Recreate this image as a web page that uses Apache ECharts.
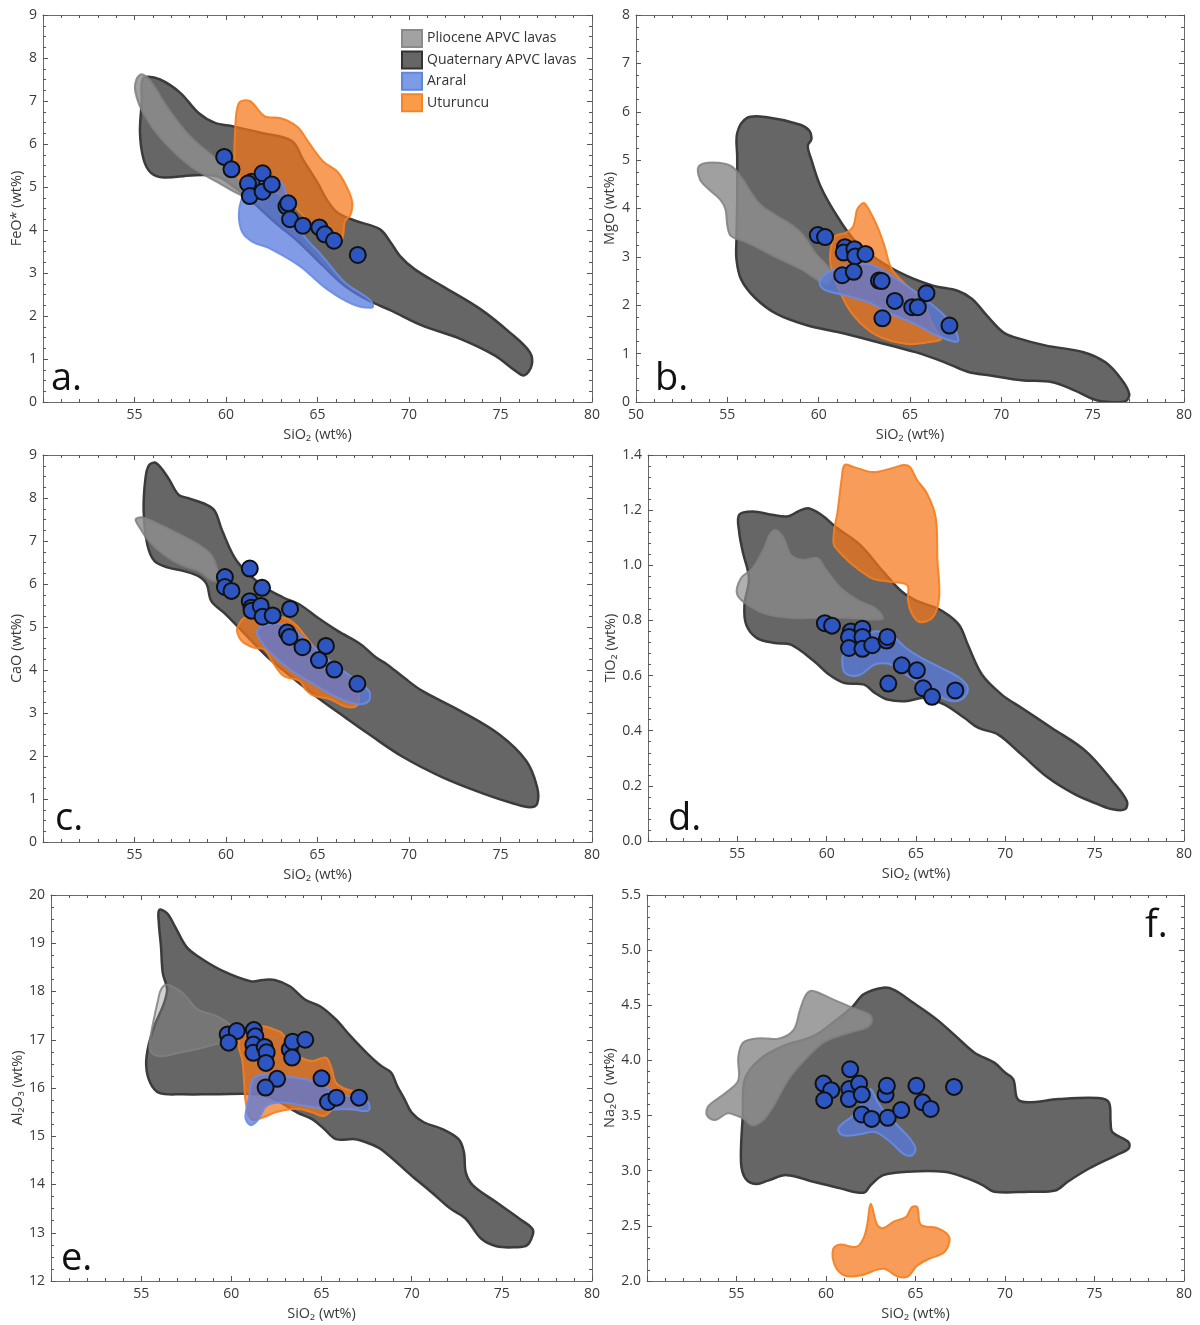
<!DOCTYPE html>
<html><head><meta charset="utf-8">
<script src="https://cdn.jsdelivr.net/npm/echarts/dist/echarts.min.js"></script>
<style>html,body{margin:0;padding:0;background:#fff}#c{width:1200px;height:1325px}</style>
</head><body><div id="c"></div>
<script>
// ---------- Panel a: FeO* ----------
const aQuat = [[55.6,7.56],[56.4,7.5],[57.5,7.19],[58.5,6.72],[59.4,6.49],[60.4,6.41],[61.9,6.26],[63.6,6.07],[64.2,5.64],[65.0,5.1],[65.5,4.71],[66.1,4.4],[67.1,4.21],[68.4,4.02],[69.0,3.71],[69.5,3.4],[70.3,3.09],[71.8,2.7],[73.9,2.16],[75.5,1.62],[76.6,1.16],[76.7,0.85],[76.3,0.62],[75.8,0.73],[74.7,1.08],[72.8,1.47],[70.7,1.78],[69.0,2.13],[67.8,2.36],[66.5,2.7],[65.3,3.17],[64.0,3.71],[62.7,4.17],[61.3,4.71],[60.0,5.14],[59.4,5.26],[58.1,5.27],[56.6,5.22],[55.9,5.33],[55.5,5.64],[55.3,6.26],[55.4,7.03],[55.4,7.42]];
const aPlio = [[55.4,7.62],[55.9,7.45],[56.8,6.85],[58.0,6.2],[59.5,5.65],[60.8,5.25],[62.0,4.95],[62.2,4.7],[61.0,4.78],[59.5,5.12],[58.0,5.5],[56.5,6.1],[55.5,6.7],[55.05,7.2],[55.1,7.5]];
const aUtur = [[60.7,6.95],[61.3,7.0],[62.1,6.65],[63.0,6.6],[63.9,6.4],[64.5,6.05],[65.3,5.6],[66.1,5.35],[66.6,5.0],[66.9,4.65],[66.8,4.35],[66.5,4.2],[66.35,3.8],[66.0,3.75],[65.2,3.9],[64.5,4.2],[63.6,4.6],[62.8,4.85],[61.8,4.95],[60.9,5.1],[60.5,5.5],[60.5,6.3]];
const aArar = [[60.85,4.71],[61.3,5.02],[62.1,5.14],[62.7,5.18],[63.15,5.02],[63.6,4.25],[64.4,3.79],[65.25,3.4],[66.5,2.78],[67.9,2.36],[68.0,2.2],[66.9,2.28],[65.5,2.63],[64.0,3.17],[62.3,3.59],[61.5,3.71],[60.9,3.94],[60.7,4.33]];
const aPts = [[59.9,5.7],[60.3,5.41],[61.4,5.12],[61.2,5.08],[61.3,4.79],[62.0,5.32],[62.0,4.89],[62.5,5.06],[63.3,4.55],[63.4,4.62],[63.5,4.25],[64.2,4.1],[65.1,4.06],[65.4,3.9],[65.9,3.75],[67.2,3.42]];

// ---------- Panel b: MgO ----------
const bQuat = [[55.54,5.56],[56.06,5.87],[57.1,5.89],[59.0,5.73],[59.5,5.6],[59.6,5.43],[59.4,5.29],[59.6,5.01],[60.1,4.46],[60.9,3.91],[61.9,3.37],[63.2,2.95],[64.8,2.61],[66.3,2.4],[67.6,2.3],[68.4,2.13],[69.2,1.79],[70.1,1.44],[70.7,1.34],[72.4,1.17],[74.5,1.03],[75.7,0.82],[76.55,0.48],[77.0,0.17],[76.8,0.02],[75.9,0.0],[75.1,0.05],[74.0,0.24],[72.8,0.41],[71.1,0.45],[69.4,0.55],[68.2,0.62],[66.9,0.82],[65.3,1.03],[63.2,1.24],[61.1,1.44],[59.4,1.58],[57.7,1.82],[56.5,2.16],[55.75,2.54],[55.5,2.95],[55.5,3.37],[55.54,4.19],[55.54,5.08]];
const bPlio = [[53.45,4.88],[54.2,4.95],[55.2,4.88],[55.85,4.6],[56.3,4.33],[56.9,4.05],[57.7,3.85],[58.6,3.64],[59.2,3.43],[59.8,3.09],[60.7,2.68],[60.45,2.44],[59.0,2.75],[57.5,3.02],[56.06,3.3],[55.2,3.43],[55.0,3.64],[54.9,3.98],[54.6,4.19],[53.97,4.4],[53.5,4.6]];
const bUtur = [[62.33,4.09],[62.1,3.98],[61.9,3.64],[61.5,3.5],[60.9,3.43],[60.66,3.16],[60.66,2.82],[61.08,2.34],[61.9,1.79],[63.2,1.37],[64.85,1.2],[66.1,1.24],[66.7,1.3],[66.5,1.44],[66.1,1.72],[65.7,2.13],[64.85,2.4],[64.0,2.75],[63.6,3.23],[63.2,3.64],[62.75,3.98],[62.5,4.11]];
const bArar = [[60.1,2.54],[60.66,2.71],[61.7,2.82],[62.75,2.85],[64.0,2.61],[65.3,2.27],[66.5,1.92],[67.35,1.58],[67.65,1.3],[67.55,1.24],[66.5,1.37],[65.3,1.61],[63.8,1.85],[62.75,2.06],[61.5,2.2],[60.45,2.3],[60.1,2.4]];
const bPts = [[59.95,3.45],[60.35,3.41],[61.44,3.2],[61.37,3.09],[61.96,3.16],[62.0,3.01],[62.56,3.06],[61.29,2.62],[61.92,2.69],[63.3,2.51],[63.45,2.5],[64.17,2.09],[65.12,1.96],[65.43,1.96],[65.9,2.25],[63.49,1.73],[67.16,1.58]];

// ---------- Panel c: CaO ----------
const cQuat = [[55.8,8.77],[56.2,8.81],[56.85,8.46],[57.4,8.08],[57.9,8.0],[58.95,7.84],[59.4,7.69],[59.8,7.23],[60.6,6.53],[61.9,5.99],[63.15,5.68],[64.0,5.53],[65.0,5.22],[66.1,4.91],[67.35,4.6],[68.2,4.29],[68.8,4.13],[69.7,3.83],[70.7,3.52],[72.8,3.05],[74.9,2.51],[76.4,1.89],[77.0,1.28],[77.0,0.89],[76.6,0.81],[75.75,0.89],[74.1,1.12],[71.8,1.51],[69.7,1.97],[67.8,2.51],[66.5,2.9],[65.0,3.36],[63.6,3.83],[62.3,4.29],[61.05,4.83],[60.0,5.29],[59.2,5.6],[58.95,5.99],[58.5,6.18],[57.7,6.3],[56.85,6.38],[56.1,6.53],[55.7,6.92],[55.5,7.69],[55.6,8.46]];
const cPlio = [[55.06,7.5],[55.4,7.55],[56.4,7.38],[57.5,7.15],[58.5,6.92],[59.2,6.68],[59.5,6.38],[59.6,6.14],[59.3,6.07],[58.5,6.3],[57.5,6.45],[56.6,6.68],[55.8,6.99],[55.3,7.3]];
const cUtur = [[61.05,5.22],[62.3,5.22],[63.15,5.22],[63.8,5.06],[64.4,4.75],[65.0,4.44],[65.9,4.13],[66.7,3.83],[67.25,3.44],[67.15,3.17],[66.5,3.15],[65.7,3.32],[64.8,3.4],[64.4,3.52],[64.0,3.75],[63.15,3.86],[62.5,4.21],[62.1,4.48],[61.5,4.52],[60.85,4.68],[60.6,4.91],[60.7,5.06]];
const cArar = [[62.3,5.06],[63.4,5.02],[64.4,4.68],[65.7,4.21],[66.9,3.83],[67.8,3.52],[67.8,3.28],[67.15,3.21],[66.1,3.36],[64.8,3.67],[63.6,3.98],[62.5,4.37],[61.9,4.68],[61.7,4.91]];
const cPts = [[59.94,6.16],[59.94,5.93],[60.3,5.84],[61.3,6.36],[61.97,5.91],[61.3,5.6],[61.39,5.45],[61.4,5.38],[61.9,5.49],[62.0,5.24],[62.55,5.27],[63.5,5.42],[63.34,4.87],[63.47,4.77],[64.18,4.53],[65.46,4.56],[65.08,4.23],[65.92,4.01],[67.18,3.68]];

// ---------- Panel d: TiO2 ----------
const dQuat = [[55.1,1.183],[55.86,1.195],[56.93,1.183],[57.8,1.177],[58.4,1.195],[58.97,1.207],[59.7,1.183],[60.6,1.134],[61.87,1.074],[63.15,0.978],[64.2,0.905],[65.1,0.869],[66.16,0.845],[66.8,0.82],[67.45,0.78],[67.9,0.712],[68.7,0.603],[69.8,0.531],[70.9,0.483],[72.6,0.41],[74.5,0.326],[76.0,0.217],[76.8,0.145],[76.7,0.115],[76.0,0.115],[75.2,0.133],[73.9,0.169],[72.4,0.229],[70.9,0.314],[69.6,0.386],[68.5,0.41],[67.7,0.447],[66.6,0.495],[65.5,0.519],[64.4,0.507],[63.4,0.513],[62.7,0.537],[62.1,0.567],[61.0,0.573],[60.15,0.603],[59.3,0.652],[58.0,0.712],[57.1,0.718],[56.1,0.736],[55.5,0.784],[55.4,0.857],[55.65,0.953],[55.3,1.05],[55.1,1.122]];
const dPlio = [[57.15,1.128],[57.6,1.098],[58.0,1.038],[58.65,1.02],[59.5,1.026],[59.9,0.99],[60.8,0.917],[61.87,0.869],[62.7,0.845],[63.15,0.809],[62.7,0.803],[61.4,0.809],[60.15,0.809],[59.3,0.809],[58.0,0.809],[56.7,0.821],[55.86,0.845],[55.0,0.893],[55.2,0.953],[55.86,0.99],[56.5,1.062],[56.8,1.11]];
const dUtur = [[61.0,1.364],[61.5,1.357],[62.6,1.338],[63.7,1.353],[64.3,1.364],[64.66,1.357],[65.05,1.31],[65.6,1.262],[66.1,1.175],[66.2,1.02],[66.3,0.885],[65.95,0.812],[65.2,0.794],[64.75,0.827],[64.55,0.874],[64.5,0.928],[63.55,0.94],[62.4,0.957],[60.47,1.066],[60.4,1.117],[60.6,1.19],[60.85,1.32]];
const dArar = [[61.0,0.688],[61.87,0.736],[62.7,0.76],[63.6,0.748],[64.44,0.7],[65.3,0.664],[66.4,0.628],[67.45,0.591],[67.9,0.555],[67.66,0.519],[67.0,0.507],[66.16,0.531],[65.3,0.567],[64.44,0.603],[63.6,0.64],[62.7,0.64],[61.87,0.603],[61.2,0.603],[60.9,0.628]];
const dPts = [[59.9,0.79],[60.3,0.781],[61.35,0.76],[61.25,0.74],[62.0,0.77],[62.0,0.74],[61.25,0.70],[62.0,0.697],[62.55,0.71],[63.35,0.727],[63.4,0.74],[64.2,0.637],[65.05,0.619],[63.45,0.571],[65.4,0.554],[65.9,0.523],[67.2,0.546]];

// ---------- Panel e: Al2O3 ----------
const eQuat = [[56.0,19.69],[56.44,19.62],[56.87,19.35],[57.5,18.93],[58.14,18.73],[59.4,18.45],[61.1,18.21],[61.75,18.24],[62.4,18.24],[63.24,18.11],[64.1,17.83],[64.94,17.69],[65.8,17.42],[66.6,17.08],[67.5,16.73],[68.3,16.46],[68.86,16.32],[69.2,16.04],[69.6,15.77],[70.0,15.49],[70.67,15.29],[71.7,15.15],[72.6,14.94],[72.9,14.67],[73.0,14.25],[73.4,13.98],[74.7,13.63],[75.98,13.29],[76.7,13.08],[76.7,12.94],[76.4,12.74],[75.76,12.7],[74.7,12.72],[73.85,12.88],[73.0,13.29],[72.15,13.5],[71.1,13.84],[70.0,14.18],[68.3,14.73],[67.5,14.87],[66.85,14.94],[65.8,14.94],[65.15,15.15],[64.5,15.35],[63.66,15.49],[62.4,15.77],[61.5,15.87],[59.0,15.87],[57.3,15.87],[56.0,15.9],[55.5,16.11],[55.28,16.46],[55.4,16.87],[55.8,17.35],[56.2,17.69],[56.44,18.04],[56.2,18.38],[56.1,18.93],[55.98,19.42]];
const ePlio = [[56.1,18.04],[56.44,18.14],[57.3,17.97],[58.14,17.63],[59.2,17.49],[60.05,17.28],[60.5,17.07],[59.4,16.94],[58.35,16.83],[57.1,16.73],[56.0,16.66],[55.5,16.77],[55.5,17.0],[55.7,17.42],[55.9,17.76]];
const eUtur = [[60.7,17.21],[61.75,17.28],[62.4,17.21],[62.8,17.14],[63.24,16.87],[63.87,16.63],[64.5,16.56],[65.25,16.63],[65.57,16.39],[65.8,16.11],[66.4,15.97],[67.27,15.87],[67.27,15.63],[66.6,15.56],[65.8,15.6],[65.15,15.42],[64.5,15.49],[63.87,15.56],[63.24,15.56],[62.4,15.49],[61.75,15.39],[61.1,15.35],[60.8,15.7],[60.7,16.18],[60.6,16.59],[60.4,16.87],[60.5,17.07]];
const eArar = [[60.8,15.35],[61.1,15.23],[61.5,15.35],[61.96,15.63],[62.8,15.7],[64.1,15.63],[65.36,15.56],[66.6,15.56],[67.6,15.53],[67.6,15.7],[67.06,15.84],[66.2,15.84],[65.15,16.04],[64.1,16.18],[62.6,16.25],[61.75,16.28],[61.2,16.18],[61.0,15.84],[60.8,15.49]];
const ePts = [[59.8,17.11],[60.3,17.18],[59.85,16.94],[61.25,17.2],[61.33,17.07],[61.22,16.9],[61.22,16.73],[61.85,16.85],[61.96,16.74],[61.92,16.52],[62.54,16.19],[61.9,16.01],[63.24,16.8],[63.4,16.96],[63.37,16.63],[64.1,17.0],[65.0,16.2],[65.36,15.71],[65.83,15.8],[67.08,15.8]];

// ---------- Panel f: Na2O ----------
const fQuat = [[62.1,4.6],[63.2,4.66],[63.8,4.64],[64.9,4.52],[66.2,4.37],[67.25,4.22],[68.3,4.07],[69.4,3.98],[70.0,3.89],[70.46,3.83],[70.7,3.65],[71.3,3.62],[73.0,3.65],[75.2,3.66],[75.8,3.62],[75.9,3.44],[76.0,3.35],[76.9,3.26],[76.9,3.2],[76.2,3.14],[74.7,3.02],[73.5,2.9],[72.8,2.82],[71.3,2.81],[69.4,2.81],[68.75,2.87],[67.9,2.93],[66.6,2.99],[64.5,2.99],[63.2,2.96],[62.5,2.87],[62.1,2.8],[60.8,2.84],[59.3,2.9],[57.8,2.96],[56.75,2.91],[56.1,2.88],[55.5,2.93],[55.25,3.08],[55.36,3.53],[55.47,3.83],[56.3,4.01],[57.6,4.13],[59.3,4.22],[60.6,4.37],[61.5,4.49]];
const fPlio = [[59.27,4.63],[60.3,4.56],[61.6,4.47],[62.4,4.42],[62.57,4.36],[62.3,4.3],[61.5,4.26],[60.05,4.18],[59.27,4.08],[58.0,3.85],[57.04,3.58],[56.5,3.46],[55.9,3.41],[55.4,3.47],[55.0,3.5],[54.5,3.52],[53.8,3.46],[53.35,3.5],[53.4,3.58],[54.0,3.66],[54.5,3.72],[55.1,3.82],[55.1,4.03],[55.36,4.16],[56.15,4.2],[57.4,4.2],[58.2,4.28],[58.55,4.46],[58.9,4.6]];
const fUtur = [[62.5,2.7],[62.86,2.51],[63.2,2.48],[63.8,2.54],[64.46,2.58],[64.8,2.67],[65.1,2.67],[65.3,2.51],[66.2,2.48],[66.8,2.42],[66.9,2.36],[66.6,2.26],[65.75,2.2],[65.1,2.14],[64.57,2.04],[64.0,2.04],[63.2,2.11],[61.9,2.05],[61.04,2.05],[60.5,2.14],[60.4,2.29],[60.8,2.33],[61.7,2.31],[62.1,2.39],[62.3,2.51]];
const fArar = [[60.8,3.41],[61.5,3.5],[62.3,3.68],[62.5,3.74],[62.9,3.62],[63.3,3.53],[64.0,3.41],[64.7,3.29],[65.0,3.2],[64.8,3.14],[64.36,3.15],[63.6,3.26],[62.75,3.35],[61.9,3.33],[61.0,3.32],[60.7,3.36]];
const fPts = [[59.86,3.79],[60.29,3.73],[59.9,3.64],[61.35,3.92],[61.3,3.74],[61.28,3.65],[61.85,3.79],[62.0,3.69],[62.0,3.51],[62.55,3.47],[63.33,3.69],[63.4,3.77],[63.45,3.48],[64.2,3.55],[65.05,3.77],[65.4,3.62],[65.85,3.56],[67.15,3.76]];

// axis names and ranges
const yNames = ['FeO* (wt%)','MgO (wt%)','CaO (wt%)','TiO₂ (wt%)','Al₂O₃ (wt%)','Na₂O  (wt%)'];
const yRanges = [[0,9,1],[0,8,1],[0,9,1],[0,1.4,0.2],[12,20,1],[2.0,5.5,0.5]];
const xRange = [50,80,5];
const panelLetters = ['a.','b.','c.','d.','e.','f.'];

// ---------- layout / style ----------
const FONT = '"Open Sans","Noto Sans",sans-serif';
const grids = [
  {left:43, top:15, width:549, height:387},
  {left:636, top:15, width:548, height:387},
  {left:43, top:455, width:549, height:387},
  {left:648, top:455, width:536, height:386},
  {left:51, top:895, width:541, height:386},
  {left:647, top:895, width:537, height:386}
];
const showMin50 = [false,true,false,false,false,false];
const yDec = [0,0,0,1,0,1];
const yMinorSplit = [4,4,4,5,4,5];
const yNameGap = [19,19,19,30,26,30];
const plioAlpha = [0.84,0.84,0.84,0.7,0.4,0.84];
const letterPos = [{left:46,top:355},{left:650,top:355},{left:50,top:795},{left:663,top:795},{left:56,top:1235},{left:1140,top:902}];

const STY = {
  quat:{name:'Quaternary APVC lavas', fill:'rgb(102,102,102)', stroke:'#3b3b3b', lw:2.5},
  plio:{name:'Pliocene APVC lavas', fill:'rgba(142,142,142,A)', stroke:'rgba(128,128,128,0.85)', lw:2},
  utur:{name:'Uturuncu', fill:'rgba(245,118,25,0.72)', stroke:'rgba(245,125,30,0.9)', lw:2},
  arar:{name:'Araral', fill:'rgba(88,122,222,0.75)', stroke:'rgba(105,140,228,0.9)', lw:2}
};

const polys = [
  {quat:aQuat, plio:aPlio, utur:aUtur, arar:aArar, pts:aPts},
  {quat:bQuat, plio:bPlio, utur:bUtur, arar:bArar, pts:bPts},
  {quat:cQuat, plio:cPlio, utur:cUtur, arar:cArar, pts:cPts},
  {quat:dQuat, plio:dPlio, utur:dUtur, arar:dArar, pts:dPts},
  {quat:eQuat, plio:ePlio, utur:eUtur, arar:eArar, pts:ePts},
  {quat:fQuat, plio:fPlio, utur:fUtur, arar:fArar, pts:fPts}
];

const xAxes = [], yAxes = [], series = [], titles = [];
const tickCol = '#555', lineCol = '#6a6a6a';

grids.forEach((g, i) => {
  const [ymin, ymax, yint] = yRanges[i];
  const common = {
    gridIndex:i, axisLine:{show:true, onZero:false, lineStyle:{color:lineCol, width:1}},
    axisTick:{show:true, inside:true, length:5, lineStyle:{color:tickCol}},
    splitLine:{show:false}
  };
  const xMinor = {show:true, splitNumber:5, length:3, lineStyle:{color:tickCol}};
  const yMinor = {show:true, splitNumber:yMinorSplit[i], length:3, lineStyle:{color:tickCol}};
  xAxes.push(Object.assign({}, common, {
    type:'value', position:'bottom', min:xRange[0], max:xRange[1], interval:xRange[2], minorTick:xMinor,
    axisLabel:{show:true, showMinLabel:showMin50[i], color:'#3a3a3a', fontSize:14, fontFamily:FONT, margin:6},
    name:'SiO₂ (wt%)', nameLocation:'middle', nameGap:25,
    nameTextStyle:{color:'#3a3a3a', fontSize:14.5, fontFamily:FONT}
  }));
  xAxes.push(Object.assign({}, common, {
    type:'value', position:'top', min:xRange[0], max:xRange[1], interval:xRange[2], minorTick:xMinor,
    axisLabel:{show:false}
  }));
  yAxes.push(Object.assign({}, common, {
    type:'value', position:'left', min:ymin, max:ymax, interval:yint, minorTick:yMinor,
    axisLabel:{show:true, color:'#3a3a3a', fontSize:14, fontFamily:FONT, margin:6,
      formatter: v => v.toFixed(yDec[i])},
    name:yNames[i], nameLocation:'middle', nameGap:yNameGap[i], nameRotate:90,
    nameTextStyle:{color:'#3a3a3a', fontSize:14.5, fontFamily:FONT}
  }));
  yAxes.push(Object.assign({}, common, {
    type:'value', position:'right', min:ymin, max:ymax, interval:yint, minorTick:yMinor,
    axisLabel:{show:false}
  }));

  const P = polys[i];
  ['quat','plio','utur','arar'].forEach((k, j) => {
    const st = STY[k];
    const fill = st.fill.replace('A', String(plioAlpha[i]));
    const pts = P[k];
    series.push({
      type:'custom', name:st.name, xAxisIndex:i*2, yAxisIndex:i*2,
      data: pts, z: 2 + j, silent:true, clip:true,
      encode:{x:0, y:1},
      itemStyle:{color:fill, borderColor:st.stroke, borderWidth:st.lw},
      renderItem: function(params, api) {
        if (params.dataIndex !== 0) return {type:'group', children:[]};
        const p = pts.map(d => api.coord(d));
        return {type:'polygon', shape:{points:p, smooth:0.35},
          style:{fill:fill, stroke:st.stroke, lineWidth:st.lw}};
      }
    });
  });
  series.push({
    type:'scatter', name:'Araral samples', xAxisIndex:i*2, yAxisIndex:i*2, z:10,
    data:P.pts, symbol:'circle', symbolSize:16, silent:true,
    itemStyle:{color:'#2d56c2', borderColor:'#111', borderWidth:2, opacity:1}
  });
  titles.push({text:panelLetters[i], left:letterPos[i].left, top:letterPos[i].top,
    textStyle:{fontSize:38, fontWeight:'normal', color:'#111', fontFamily:FONT}});
});

const option = {
  animation:false,
  backgroundColor:'#fff',
  title: titles,
  grid: grids.map(g => Object.assign({containLabel:false}, g)),
  xAxis: xAxes,
  yAxis: yAxes,
  legend: {
    left:396, top:24, orient:'vertical', itemWidth:20, itemHeight:17, itemGap:2.4,
    icon:'rect', selectedMode:false,
    textStyle:{fontSize:14, color:'#333', fontFamily:FONT, lineHeight:17},
    data:[
      {name:'Pliocene APVC lavas', itemStyle:{color:'#a2a2a2', borderColor:'#8a8a8a', borderWidth:2}},
      {name:'Quaternary APVC lavas', itemStyle:{color:'#666666', borderColor:'#333', borderWidth:2}},
      {name:'Araral', itemStyle:{color:'#7c9ce6', borderColor:'#5f86de', borderWidth:2}},
      {name:'Uturuncu', itemStyle:{color:'#f99c4a', borderColor:'#f2852a', borderWidth:2}}
    ]
  },
  series: series
};
const chart = echarts.init(document.getElementById('c'), null, {renderer:'canvas', width:1200, height:1325});
chart.setOption(option);
</script>
</body></html>
